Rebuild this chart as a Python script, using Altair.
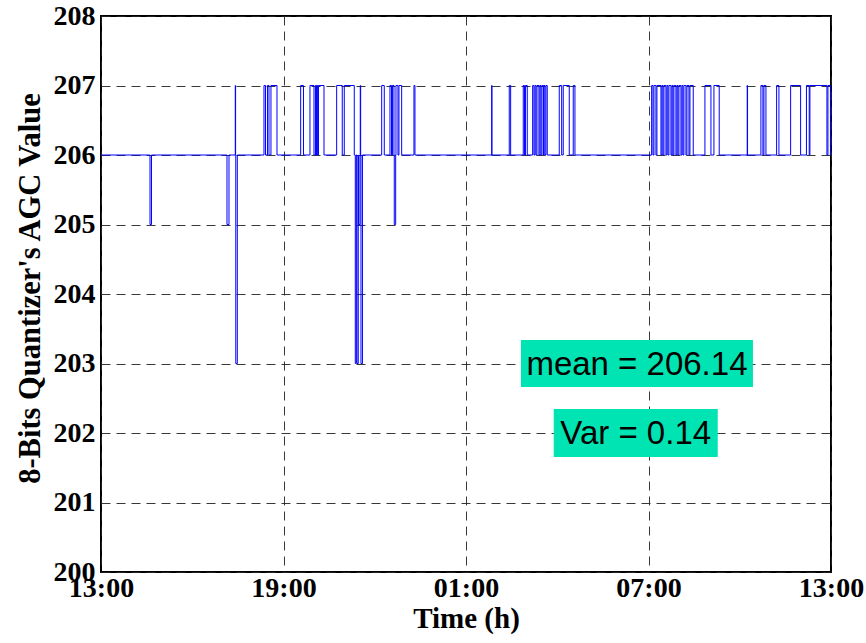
import altair as alt
import pandas as pd

# Pulse events (hours after 13:00), baseline 206
event_start = [1.611, 4.142, 4.415, 4.431, 5.358, 5.473, 5.588, 6.565, 6.870, 7.051,
               7.101, 7.150, 7.748, 7.998, 8.360, 8.416, 8.465, 8.524, 8.547, 9.228,
               9.500, 9.582, 9.642, 9.698, 9.796, 10.289, 12.844, 13.422, 13.882, 13.955,
               14.191, 14.267, 14.333, 14.431, 14.497, 14.563, 14.629, 15.066, 15.197, 15.526,
               18.103, 18.179, 18.277, 18.442, 18.508, 18.606, 18.672, 18.771, 18.836, 18.935,
               19.001, 19.100, 19.165, 19.264, 19.362, 19.855, 20.151, 21.246, 21.696, 21.795,
               22.212, 22.673, 23.192, 23.307, 23.899]
event_end = [1.660, 4.208, 4.425, 4.481, 5.408, 5.523, 5.786, 6.657, 7.002, 7.084,
             7.124, 7.331, 7.932, 8.327, 8.393, 8.458, 8.514, 8.537, 8.596, 9.313,
             9.550, 9.632, 9.688, 9.763, 9.885, 10.322, 12.853, 13.468, 13.922, 14.014,
             14.234, 14.300, 14.398, 14.464, 14.546, 14.596, 14.671, 15.145, 15.395, 15.582,
             18.146, 18.244, 18.409, 18.475, 18.573, 18.639, 18.738, 18.803, 18.902, 18.968,
             19.067, 19.132, 19.231, 19.330, 19.471, 20.053, 20.325, 21.256, 21.762, 21.861,
             22.288, 23.001, 23.284, 23.866, 23.981]
event_level = [205, 205, 207, 203, 207, 207, 207, 207, 207, 207,
               207, 207, 207, 207, 203, 203, 205, 207, 203, 207,
               207, 207, 205, 207, 207, 207, 207, 207, 207, 207,
               207, 207, 207, 207, 207, 207, 207, 207, 207, 207,
               207, 207, 207, 207, 207, 207, 207, 207, 207, 207,
               207, 207, 207, 207, 207, 207, 207, 207, 207, 207,
               207, 207, 207, 207, 207]
baseline = 206
t_begin, t_end = 0, 24

tick_hours = [0, 6, 12, 18, 24]
tick_labels = ["13:00", "19:00", "01:00", "07:00", "13:00"]
y_ticks = [200, 201, 202, 203, 204, 205, 206, 207, 208]

ann_text = ["mean = 206.14", "Var = 0.14"]
ann_x = [17.62, 17.58]
ann_y = [203.0, 202.0]

rows = [{"t": t_begin, "v": baseline, "i": 0}]
k = 1
for s, e, lv in zip(event_start, event_end, event_level):
    rows.append({"t": s, "v": lv, "i": k}); k += 1
    rows.append({"t": e, "v": baseline, "i": k}); k += 1
rows.append({"t": t_end, "v": baseline, "i": k})
df = pd.DataFrame(rows)

label_expr = "{" + ",".join(f"'{h}':'{l}'" for h, l in zip(tick_hours, tick_labels)) + "}[datum.value]"

xscale = alt.Scale(domain=[0, 24], nice=False, zero=False)
yscale = alt.Scale(domain=[200, 208], nice=False, zero=False)

line = alt.Chart(df).mark_line(
    interpolate="step-after", color="#0000FF", strokeWidth=1, clip=True
).encode(
    x=alt.X("t:Q", scale=xscale, axis=alt.Axis(
        values=tick_hours, labelExpr=label_expr, title="Time (h)",
        labelFont="Liberation Serif", labelFontWeight="bold", labelFontSize=28,
        labelColor="black", labelPadding=2, labelFlush=False, labelOverlap=False,
        titleFont="Liberation Serif", titleFontWeight="bold", titleFontSize=29,
        titleColor="black", titlePadding=2,
        grid=True, gridDash=[9, 6], gridColor="#222222", gridWidth=0.9,
        ticks=False, domain=False)),
    y=alt.Y("v:Q", scale=yscale, axis=alt.Axis(
        values=y_ticks, format="d", title="8-Bits Quantizer's AGC Value",
        labelFont="Liberation Serif", labelFontWeight="bold", labelFontSize=28,
        labelColor="black", labelPadding=6, labelOverlap=False, labelFlush=False,
        titleFont="Liberation Serif", titleFontWeight="bold", titleFontSize=30.5,
        titleColor="black", titlePadding=8, titleY=272,
        grid=True, gridDash=[9, 6], gridColor="#222222", gridWidth=0.9,
        ticks=False, domain=False)),
    order="i:Q",
)

ann = pd.DataFrame({"txt": ann_text, "x": ann_x, "y": ann_y})

box1 = alt.Chart(ann.iloc[[0]]).mark_rect(color="#00E3B2", width=232, height=47).encode(
    x=alt.X("x:Q", scale=xscale), y=alt.Y("y:Q", scale=yscale))
box2 = alt.Chart(ann.iloc[[1]]).mark_rect(color="#00E3B2", width=164, height=48).encode(
    x=alt.X("x:Q", scale=xscale), y=alt.Y("y:Q", scale=yscale))

texts = alt.Chart(ann).mark_text(
    font="Liberation Sans", fontSize=33, color="black", align="center", baseline="middle", dy=1
).encode(
    x=alt.X("x:Q", scale=xscale), y=alt.Y("y:Q", scale=yscale), text="txt:N")

chart = alt.layer(line, box1, box2, texts).properties(
    width=730, height=556,
    autosize=alt.AutoSizeParams(type="none"),
    padding={"left": 101, "top": 16, "right": 35, "bottom": 71},
    background="white",
).configure_view(stroke="black", strokeWidth=2)

chart.save("out.html", embed_options={"renderer": "svg", "actions": False})
